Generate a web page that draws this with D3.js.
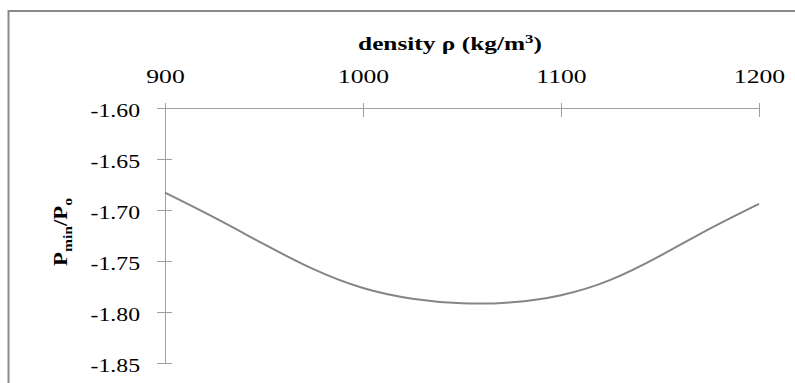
<!DOCTYPE html>
<html>
<head>
<meta charset="utf-8">
<script src="https://cdn.jsdelivr.net/npm/d3@7"></script>
<style>
  body { margin: 0; background: #fff; }
  svg { display: block; }
</style>
</head>
<body>
<div id="chart"></div>
<script>
// Données
const density = [900, 925, 950, 975, 1000, 1025, 1050, 1075, 1100, 1125, 1150, 1175, 1200];
const pRatio = [-1.683, -1.7075, -1.7335, -1.758, -1.7765, -1.787, -1.7915, -1.7905, -1.7835, -1.7685, -1.745, -1.7185, -1.694];
const xTicks = [900, 1000, 1100, 1200];
const yTicks = [-1.60, -1.65, -1.70, -1.75, -1.80, -1.85];

const svgWidth = 795;
const svgHeight = 383;
const plot = { left: 165, right: 759, top: 108, bottom: 363 };
const serif = 'Liberation Serif, Times New Roman, Tinos, DejaVu Serif, serif';

const svg = d3.select('#chart')
    .append('svg')
    .attr('width', svgWidth)
    .attr('height', svgHeight)
    .attr('font-family', serif);

// Cadre gris
svg.append('rect')
    .attr('x', 8.5)
    .attr('y', 11)
    .attr('width', 820)
    .attr('height', 420)
    .attr('fill', 'none')
    .attr('stroke', '#8a8a8a')
    .attr('stroke-width', 2);

// Echelles
const x = d3.scaleLinear()
    .domain([900, 1200])
    .range([plot.left, plot.right]);

const y = d3.scaleLinear()
    .domain([-1.60, -1.85])
    .range([plot.top, plot.bottom]);

// Axe X (en haut)
const xAxis = svg.append('g')
    .attr('transform', 'translate(0,' + plot.top + ')')
    .call(d3.axisTop(x).tickValues(xTicks).tickFormat(d3.format('d')).tickSizeOuter(0))
    .attr('font-family', serif);

xAxis.select('.domain').attr('stroke', '#a0a0a0').attr('d', 'M' + (plot.left - 8) + ',0.5H' + plot.right);
xAxis.selectAll('.tick line').attr('stroke', '#a0a0a0').attr('y1', -5).attr('y2', 9);
xAxis.selectAll('.tick text')
    .attr('y', -25)
    .attr('dy', 0)
    .attr('font-size', 19)
    .attr('transform', 'scale(1.35,1)');

// Axe Y
const yAxis = svg.append('g')
    .attr('transform', 'translate(' + plot.left + ',0)')
    .call(d3.axisLeft(y).tickValues(yTicks).tickFormat(d => d.toFixed(2)).tickSizeOuter(0))
    .attr('font-family', serif);

yAxis.select('.domain').attr('stroke', '#a0a0a0').attr('d', 'M0.5,' + (plot.top - 5) + 'V' + plot.bottom);
yAxis.selectAll('.tick line').attr('stroke', '#a0a0a0').attr('x1', -8).attr('x2', 7);
yAxis.selectAll('.tick text')
    .attr('x', -20)
    .attr('dy', '0.44em')
    .attr('font-size', 19)
    .attr('transform', 'scale(1.25,1)');

// Titre axe X
const xTitle = svg.append('text')
    .attr('transform', 'translate(450,50) scale(1.3,1)')
    .attr('text-anchor', 'middle')
    .attr('font-size', 19.5)
    .attr('font-weight', 'bold');
xTitle.append('tspan').text('density ρ  (kg/m');
xTitle.append('tspan').attr('font-size', 13).attr('dy', -7).text('3');
xTitle.append('tspan').attr('dy', 7).text(')');

// Titre axe Y
const yTitle = svg.append('text')
    .attr('transform', 'translate(67,232) rotate(-90) scale(1.2,1)')
    .attr('text-anchor', 'middle')
    .attr('font-size', 19)
    .attr('font-weight', 'bold');
yTitle.append('tspan').text('P');
yTitle.append('tspan').attr('font-size', 13).attr('dy', 5).text('min');
yTitle.append('tspan').attr('dy', -5).text('/P');
yTitle.append('tspan').attr('font-size', 13).attr('dy', 5).text('o');

// Courbe
const line = d3.line()
    .x((d, i) => x(density[i]))
    .y(d => y(d))
    .curve(d3.curveNatural);

svg.append('path')
    .datum(pRatio)
    .attr('d', line)
    .attr('fill', 'none')
    .attr('stroke', '#858585')
    .attr('stroke-width', 2);
</script>
</body>
</html>
